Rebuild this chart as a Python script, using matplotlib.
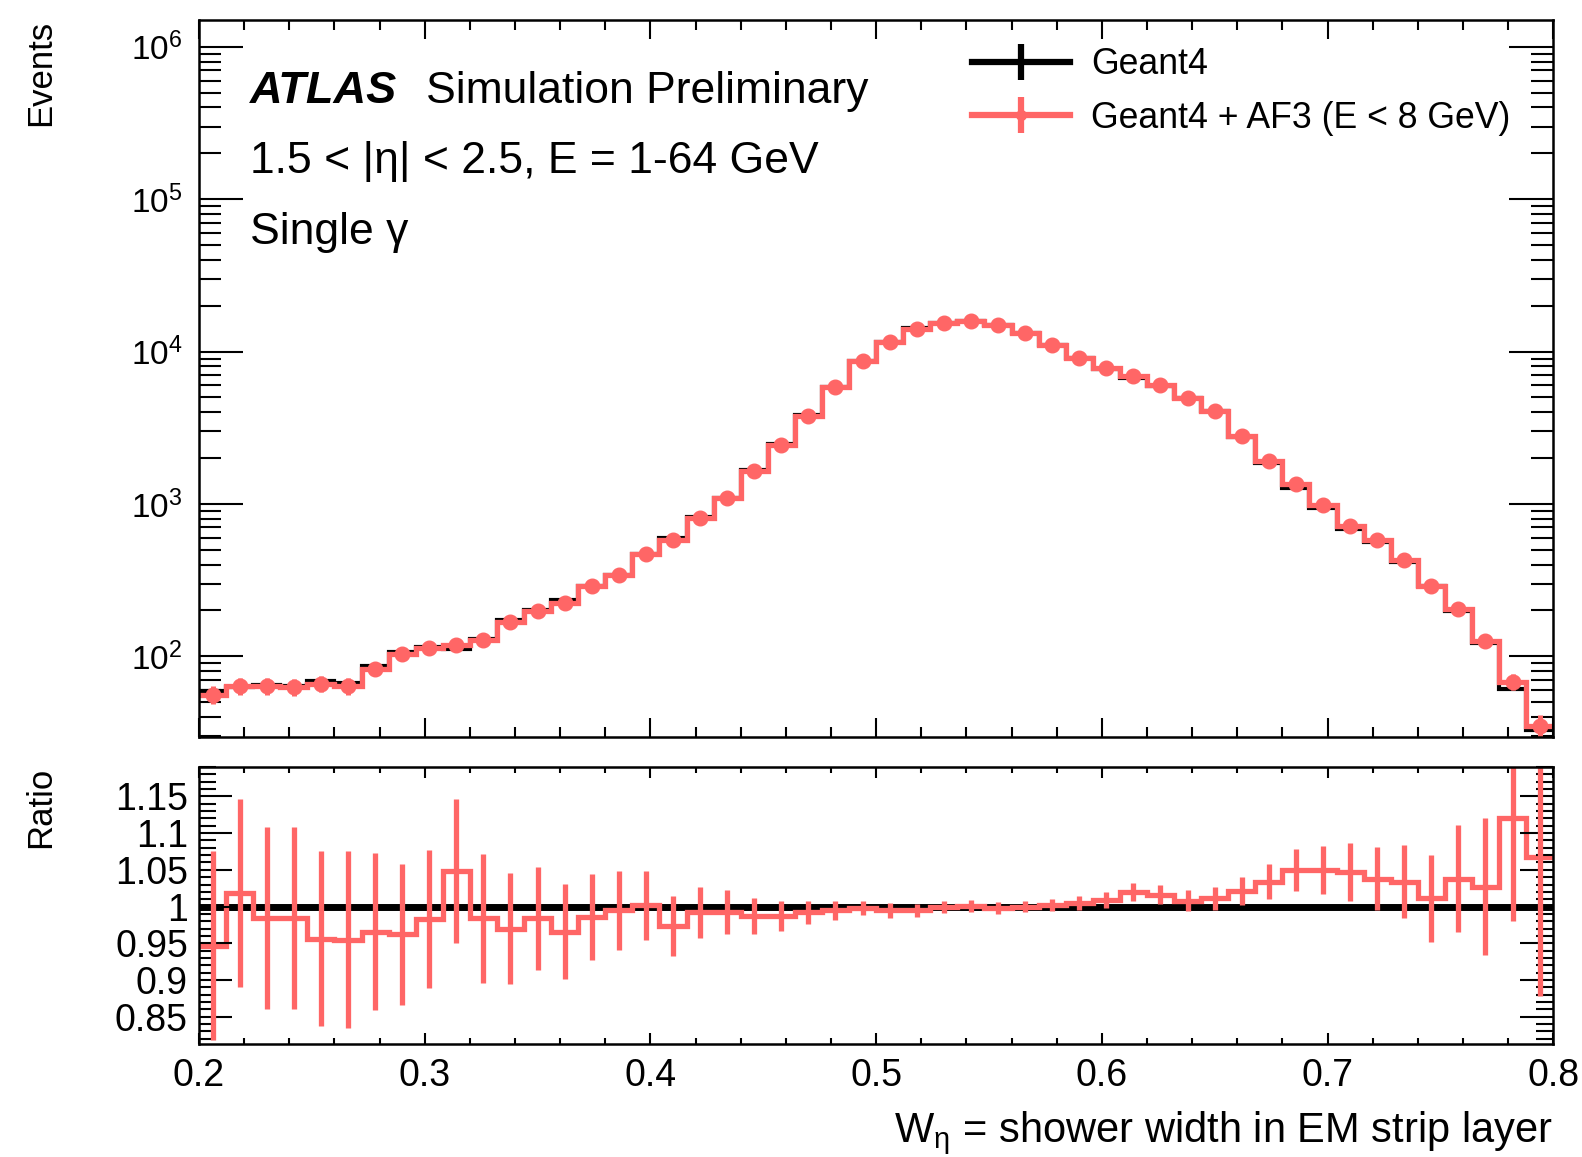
import numpy as np
import matplotlib
matplotlib.use("Agg")
import matplotlib.pyplot as plt
from matplotlib.ticker import MultipleLocator, LogLocator, NullFormatter, FuncFormatter

plt.rcParams['font.family'] = ['Liberation Sans', 'DejaVu Sans']
plt.rcParams['mathtext.fontset'] = 'custom'
plt.rcParams['mathtext.rm'] = 'Liberation Sans'
plt.rcParams['mathtext.it'] = 'Liberation Sans'
plt.rcParams['mathtext.bf'] = 'Liberation Sans:bold'

RED = '#ff6666'

# binning: 50 bins between 0.2 and 0.8
x_lo, x_hi, n_bins = 0.2, 0.8, 50

# events per bin
g4_counts = [59, 63, 65, 64, 69, 67, 86, 107, 115, 112,
             130, 173, 202, 233, 291, 341, 466, 595, 818, 1093,
             1659, 2466, 3820, 5840, 8667, 11618, 14171, 15465, 15884, 15030,
             13300, 11028, 9015, 7701, 6735, 5896, 4950, 4045, 2733, 1843,
             1278, 942, 686, 559, 413, 288, 197, 123, 61, 33]
af3_counts = [56, 64, 64, 63, 66, 64, 83, 103, 113, 118,
              128, 168, 199, 225, 287, 339, 467, 580, 811, 1085,
              1637, 2434, 3790, 5810, 8650, 11560, 14100, 15450, 15900, 15000,
              13300, 11050, 9060, 7770, 6870, 5990, 4990, 4090, 2790, 1906,
              1342, 989, 718, 580, 427, 291, 205, 126, 68, 35]

# ratio (G4+AF3)/G4 and its uncertainty
ratio = [0.947, 1.019, 0.984, 0.984, 0.956, 0.955, 0.966, 0.962, 0.983, 1.049,
         0.984, 0.970, 0.984, 0.966, 0.986, 0.995, 1.002, 0.974, 0.992, 0.993,
         0.987, 0.987, 0.992, 0.995, 0.998, 0.995, 0.995, 0.999, 1.001, 0.998,
         1.000, 1.002, 1.005, 1.009, 1.020, 1.016, 1.008, 1.011, 1.021, 1.034,
         1.050, 1.050, 1.047, 1.038, 1.034, 1.011, 1.038, 1.027, 1.121, 1.068]
ratio_err = [0.129, 0.128, 0.124, 0.124, 0.119, 0.120, 0.107, 0.096, 0.094, 0.098,
             0.088, 0.076, 0.070, 0.065, 0.059, 0.054, 0.047, 0.041, 0.035, 0.030,
             0.025, 0.020, 0.016, 0.013, 0.010, 0.010, 0.009, 0.008, 0.008, 0.008,
             0.008, 0.008, 0.010, 0.011, 0.012, 0.013, 0.014, 0.016, 0.019, 0.024,
             0.029, 0.033, 0.039, 0.043, 0.050, 0.059, 0.073, 0.093, 0.140, 0.190]

edges = np.linspace(x_lo, x_hi, n_bins + 1)
centers = 0.5 * (edges[:-1] + edges[1:])
g4 = np.array(g4_counts, dtype=float)
af3 = np.array(af3_counts, dtype=float)
ratio = np.array(ratio)
ratio_err = np.array(ratio_err)

fig = plt.figure(figsize=(15.82, 11.57), dpi=100)
ax1 = fig.add_axes([0.1258, 0.363, 0.856, 0.6197])
ax2 = fig.add_axes([0.1258, 0.0977, 0.856, 0.2394])

# --- top panel
ax1.stairs(g4, edges, color='k', lw=3, baseline=None)
ax1.stairs(af3, edges, color=RED, lw=3.8, baseline=None)
ax1.errorbar(centers, af3, yerr=np.sqrt(af3), fmt='o', color=RED, ms=10.5,
             elinewidth=3.6, capsize=0)

ax1.set_yscale('log')
ax1.set_xlim(x_lo, x_hi)
ax1.set_ylim(29.5, 1.5e6)
ax1.yaxis.set_major_locator(LogLocator(base=10, numticks=10))
ax1.yaxis.set_minor_locator(LogLocator(base=10, subs=np.arange(2, 10), numticks=20))
ax1.yaxis.set_minor_formatter(NullFormatter())
ax1.xaxis.set_major_locator(MultipleLocator(0.1))
ax1.xaxis.set_minor_locator(MultipleLocator(0.02))
ax1.tick_params(axis='both', which='both', direction='in', top=True, right=True,
                width=1.5, labelbottom=False)
ax1.tick_params(axis='y', which='major', length=32, labelsize=24, pad=12)
ax1.tick_params(axis='y', which='minor', length=16)
ax1.tick_params(axis='x', which='major', length=14)
ax1.tick_params(axis='x', which='minor', length=7)
for s in ax1.spines.values():
    s.set_linewidth(1.8)

ax1.set_ylabel('Events', fontsize=25, loc='top')
ax1.yaxis.set_label_coords(-0.105, 1.0)

# labels
ax1.text(0.0377, 0.884, 'ATLAS', transform=ax1.transAxes, fontsize=32.5,
         fontweight='bold', fontstyle='italic', va='baseline')
ax1.text(0.1677, 0.884, 'Simulation Preliminary', transform=ax1.transAxes,
         fontsize=32, va='baseline')
ax1.text(0.0377, 0.787, '1.5 < |η| < 2.5, E = 1-64 GeV', transform=ax1.transAxes,
         fontsize=32, va='baseline')
ax1.text(0.0377, 0.688, 'Single γ', transform=ax1.transAxes, fontsize=32,
         va='baseline')

# legend
h_g4 = ax1.errorbar([], [], yerr=[], fmt='-', color='k', lw=4.5, elinewidth=4.5)
h_af3 = ax1.errorbar([], [], yerr=[], fmt='-o', color=RED, lw=4.5, ms=7,
                     elinewidth=4.5)
ax1.legend([h_g4, h_af3], ['Geant4', 'Geant4 + AF3 (E < 8 GeV)'],
           loc='upper left', bbox_to_anchor=(0.5705, 0.962), frameon=False,
           fontsize=25.7, handlelength=2.75, handletextpad=0.6,
           labelspacing=0.52, borderpad=0, borderaxespad=0)

# --- ratio panel
ax2.stairs(g4 / g4, edges, color='k', lw=5, baseline=None)
ax2.stairs(ratio, edges, color=RED, lw=3.8, baseline=None)
ax2.errorbar(centers, ratio, yerr=ratio_err, fmt='none', ecolor=RED,
             elinewidth=3.8, capsize=0)

ax2.set_xlim(x_lo, x_hi)
ax2.set_ylim(0.813, 1.19)
ax2.yaxis.set_major_locator(MultipleLocator(0.05))
ax2.yaxis.set_minor_locator(MultipleLocator(0.01))
ax2.yaxis.set_major_formatter(FuncFormatter(lambda v, p: '%g' % round(v, 2)))
ax2.xaxis.set_major_locator(MultipleLocator(0.1))
ax2.xaxis.set_minor_locator(MultipleLocator(0.02))
ax2.xaxis.set_major_formatter(FuncFormatter(lambda v, p: '%g' % round(v, 1)))
ax2.tick_params(axis='both', which='both', direction='in', top=True, right=True,
                width=1.5, labelsize=27)
ax2.tick_params(axis='y', which='major', length=24, pad=8)
ax2.tick_params(axis='y', which='minor', length=12)
ax2.tick_params(axis='x', which='major', length=8, pad=10)
ax2.tick_params(axis='x', which='minor', length=4)
for s in ax2.spines.values():
    s.set_linewidth(1.8)

ax2.set_ylabel('Ratio', fontsize=25, loc='top')
ax2.yaxis.set_label_coords(-0.105, 1.0)
ax2.set_xlabel(r'W$_{\eta}$ = shower width in EM strip layer', fontsize=30,
               loc='right')
ax2.xaxis.set_label_coords(1.0, -0.235)

fig.savefig('out.png', dpi=100)
